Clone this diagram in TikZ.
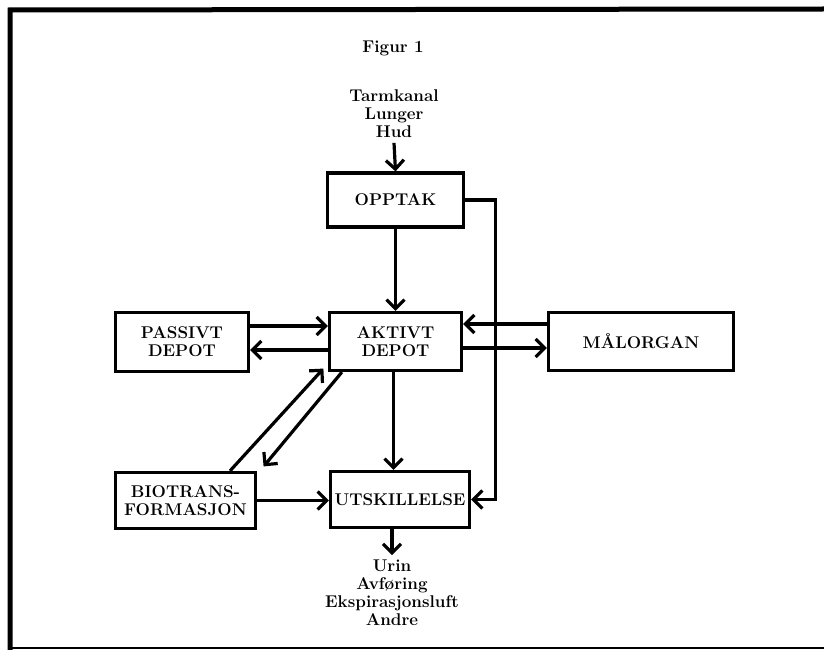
\documentclass[tikz,border=0pt]{standalone}
\usetikzlibrary{arrows.meta, calc}

\begin{document}
\begin{tikzpicture}[x=1pt, y=-1pt, line width=3.2pt, >={Straight Barb[length=9pt, width=18pt]},
  every node/.style={font=\fontsize{17}{18}\selectfont\bfseries, align=center},
  boks/.style={draw, inner xsep=2pt}]
  \useasboundingbox (0,0) rectangle (824,650);
  \draw[line width=5pt] (824,9) -- (10,10) -- (10,650);
  \draw[line width=1.6pt] (10,648) -- (824,648);
  \node (figur) at (393,48) {Figur 1};
  \node (inn) at (394,114) {Tarmkanal\\Lunger\\Hud};
  \node[boks, minimum width=136, minimum height=54] (opptak) at (395.5,200) {OPPTAK};
  \node[boks, minimum width=132, minimum height=58] (aktivt) at (395.5,341.5) {AKTIVT\\DEPOT};
  \node[boks, minimum width=133, minimum height=59] (passivt) at (182,342) {PASSIVT\\DEPOT};
  \node[boks, minimum width=185, minimum height=58] (malorgan) at (641,341.5) {MÅLORGAN};
  \node[boks, minimum width=140, minimum height=56] (bio) at (185.5,500.5) {BIOTRANS-\\FORMASJON};
  \node[boks, minimum width=139, minimum height=56] (utsk) at (400,499.5) {UTSKILLELSE};
  \node (ut) at (392,593) {Urin\\Avføring\\Ekspirasjonsluft\\Andre};
  \draw[->] (inn.south) -- (opptak.north);
  \draw[->] (opptak.south) -- (aktivt.north);
  \draw[->] ($(passivt.east)+(0,-16)$) coordinate (p1) -- (p1 -| aktivt.west);
  \draw[->] ($(aktivt.west)+(0,8.5)$) coordinate (p2) -- (p2 -| passivt.east);
  \draw[->] ($(malorgan.west)+(0,-17.5)$) coordinate (m1) -- (m1 -| aktivt.east);
  \draw[->] ($(aktivt.east)+(0,6.5)$) coordinate (m2) -- (m2 -| malorgan.west);
  \draw[->] ($(aktivt.south)+(-2,0)$) coordinate (a1) -- (a1 |- utsk.north);
  \draw[->] ($(bio.north)+(44.5,0)$) -- ($(aktivt.south west)+(-4.5,-3.5)$);
  \draw[->] ($(aktivt.south west)+(14,0)$) -- ($(bio.north east)+(6.5,-4.5)$);
  \draw[->] (bio.east) -- (bio.east -| utsk.west);
  \draw[->] (opptak.east) -- ++(30,0) |- (utsk.east);
  \draw[->] (ut.north |- utsk.south) -- (ut.north);
\end{tikzpicture}
\end{document}
